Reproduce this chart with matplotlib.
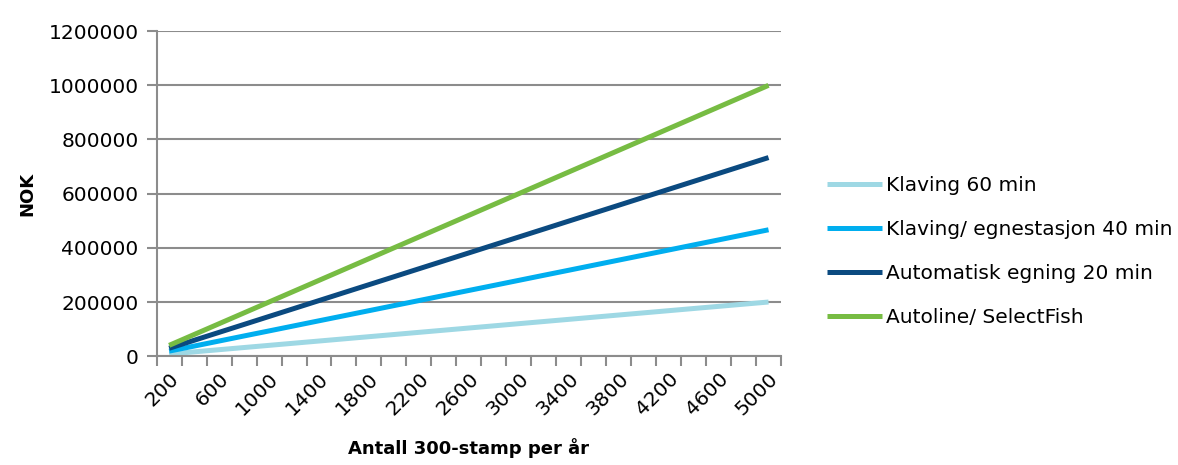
import numpy as np
import matplotlib.pyplot as plt
from matplotlib.ticker import FixedLocator, FuncFormatter

plt.rcParams['font.family'] = ['DejaVu Sans']

# antall 300-stamp per aar (kategorier)
stamp = [200, 400, 600, 800, 1000, 1200, 1400, 1600, 1800, 2000, 2200, 2400, 2600,
         2800, 3000, 3200, 3400, 3600, 3800, 4000, 4200, 4400, 4600, 4800, 5000]

klaving_60 = [8000, 16000, 24000, 32000, 40000, 48000, 56000, 64000, 72000, 80000,
              88000, 96000, 104000, 112000, 120000, 128000, 136000, 144000, 152000,
              160000, 168000, 176000, 184000, 192000, 200000]
klaving_40 = [18700, 37300, 56000, 74700, 93300, 112000, 130700, 149300, 168000,
              186700, 205300, 224000, 242700, 261300, 280000, 298700, 317300, 336000,
              354700, 373300, 392000, 410700, 429300, 448000, 466700]
automatisk_20 = [29300, 58700, 88000, 117300, 146700, 176000, 205300, 234700, 264000,
                 293300, 322700, 352000, 381300, 410700, 440000, 469300, 498700, 528000,
                 557300, 586700, 616000, 645300, 674700, 704000, 733300]
autoline = [40000, 80000, 120000, 160000, 200000, 240000, 280000, 320000, 360000,
            400000, 440000, 480000, 520000, 560000, 600000, 640000, 680000, 720000,
            760000, 800000, 840000, 880000, 920000, 960000, 1000000]

series = [
    ('Klaving 60 min', klaving_60, '#9ed8e4'),
    ('Klaving/ egnestasjon 40 min', klaving_40, '#00aeef'),
    ('Automatisk egning 20 min', automatisk_20, '#0b4a80'),
    ('Autoline/ SelectFish', autoline, '#77bc43'),
]

fig = plt.figure(figsize=(11.78, 4.65), dpi=100)
ax = fig.add_axes([0.133, 0.234, 0.530, 0.699])

x = np.arange(len(stamp))
for name, vals, col in series:
    ax.plot(x, vals, color=col, lw=3.6, label=name, solid_capstyle='butt')

grey = '#8c8c8c'
ax.set_xlim(-0.5, len(stamp) - 0.5)
ax.set_ylim(0, 1200000)
ax.set_yticks(np.arange(0, 1200001, 200000))
ax.yaxis.set_major_formatter(FuncFormatter(lambda v, p: '%d' % v))
ax.yaxis.grid(True, color=grey, lw=1.5)
ax.set_axisbelow(True)

for s in ['top', 'right']:
    ax.spines[s].set_visible(False)
for s in ['left', 'bottom']:
    ax.spines[s].set_color(grey)
    ax.spines[s].set_linewidth(1.5)

ax.set_xticks(x[::2])
ax.set_xticklabels([str(v) for v in stamp[::2]], rotation=45, ha='right',
                   rotation_mode='anchor', fontsize=14.5)
ax.xaxis.set_minor_locator(FixedLocator(np.arange(-0.5, len(stamp), 1.0)))
ax.tick_params(axis='x', which='major', length=0, pad=9)
ax.tick_params(axis='x', which='minor', length=7, width=1.5, color=grey)
ax.tick_params(axis='y', length=7, width=1.5, color=grey, labelsize=14.5, pad=6)

ax.set_ylabel('NOK', fontsize=13, fontweight='bold', labelpad=9)
ax.set_xlabel('Antall 300-stamp per år', fontsize=13, fontweight='bold', labelpad=14)

ax.legend(loc='center left', bbox_to_anchor=(0.687, 0.459), bbox_transform=fig.transFigure,
          frameon=False, fontsize=14.5, handlelength=2.7, handletextpad=0.2,
          labelspacing=1.25)

fig.savefig('out.png', dpi=100)
